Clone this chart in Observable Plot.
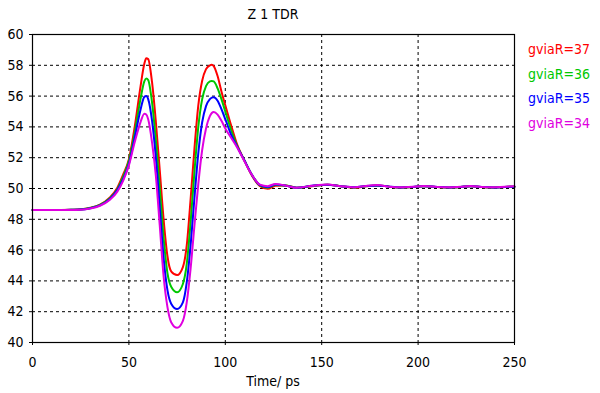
<!DOCTYPE html>
<html>
<head>
<meta charset="utf-8">
<script src="https://cdn.jsdelivr.net/npm/d3@7"></script>
<script src="https://cdn.jsdelivr.net/npm/@observablehq/plot@0.6"></script>
<style>
  html, body { margin: 0; padding: 0; background: #fff; }
  #wrap { position: relative; width: 600px; height: 393px; font-family: "DejaVu Sans Condensed", "Liberation Sans", sans-serif; color: #000; }
  #title { position: absolute; left: 0; width: 546px; top: 6px; text-align: center; font-size: 14px; }
  #xlabel { position: absolute; left: 0; width: 546px; top: 373px; text-align: center; font-size: 14px; }
  #legend { position: absolute; left: 528px; top: 37px; font-size: 14px; line-height: 24.6px; }
</style>
</head>
<body>
<div id="wrap">
  <div id="chart"></div>
  <div id="title"></div>
  <div id="xlabel"></div>
  <div id="legend"></div>
</div>
<script>
const titleText = "Z 1 TDR";
const xLabelText = "Time/ ps";
const seriesNames = ["gviaR=37", "gviaR=36", "gviaR=35", "gviaR=34"];
const seriesColors = ["#ff0000", "#00c800", "#0000ff", "#e000e0"];
const xTicks = [0, 50, 100, 150, 200, 250];
const yTicks = [40, 42, 44, 46, 48, 50, 52, 54, 56, 58, 60];

const time = [0, 10, 20, 25, 30, 35, 40, 44, 47, 50, 53, 56, 58, 59, 60, 62, 64, 66, 68, 70, 72, 75, 78, 80, 82, 84, 86, 88, 90, 92, 93, 94, 96, 98, 100, 103, 106, 110, 114, 118, 122, 126, 131, 137, 145, 153, 160, 167, 173, 179, 185, 191, 197, 203, 210, 216, 222, 227, 233, 239, 245, 250];

const r37 = [48.6, 48.6, 48.62, 48.65, 48.75, 48.95, 49.4, 50.05, 50.9, 51.9, 54.0, 56.6, 58.1, 58.45, 58.4, 56.9, 54.3, 51.2, 48.0, 45.6, 44.6, 44.38, 44.9, 46.3, 49.3, 52.6, 55.4, 57.0, 57.75, 58.0, 58.03, 57.95, 57.3, 56.3, 55.4, 54.1, 52.9, 51.8, 50.8, 50.15, 49.98, 50.18, 50.2, 50.05, 50.15, 50.25, 50.15, 50.05, 50.15, 50.2, 50.12, 50.05, 50.1, 50.15, 50.1, 50.05, 50.1, 50.15, 50.1, 50.05, 50.1, 50.12];

const r36 = [48.6, 48.6, 48.62, 48.64, 48.73, 48.93, 49.35, 49.95, 50.75, 51.8, 53.6, 55.8, 56.95, 57.15, 57.05, 55.6, 53.1, 50.0, 46.8, 44.5, 43.6, 43.26, 43.8, 45.1, 47.8, 51.1, 54.0, 55.8, 56.65, 56.95, 56.98, 56.95, 56.5, 55.8, 55.0, 53.8, 52.8, 51.8, 50.85, 50.2, 50.05, 50.22, 50.2, 50.05, 50.17, 50.25, 50.15, 50.07, 50.15, 50.2, 50.12, 50.06, 50.1, 50.15, 50.1, 50.06, 50.1, 50.15, 50.1, 50.06, 50.1, 50.12];

const r35 = [48.6, 48.6, 48.62, 48.63, 48.72, 48.9, 49.3, 49.9, 50.6, 51.6, 53.3, 55.1, 55.95, 56.0, 55.8, 54.4, 52.0, 48.8, 45.5, 43.4, 42.5, 42.17, 42.6, 43.9, 46.3, 49.4, 52.3, 54.3, 55.35, 55.8, 55.9, 55.92, 55.7, 55.15, 54.5, 53.5, 52.75, 51.8, 50.85, 50.22, 50.1, 50.26, 50.2, 50.05, 50.18, 50.25, 50.15, 50.08, 50.16, 50.2, 50.12, 50.07, 50.1, 50.15, 50.1, 50.07, 50.1, 50.15, 50.1, 50.07, 50.1, 50.12];

const r34 = [48.6, 48.6, 48.6, 48.62, 48.7, 48.88, 49.25, 49.8, 50.5, 51.5, 53.0, 54.3, 54.85, 54.8, 54.5, 53.0, 50.8, 47.6, 44.3, 42.3, 41.3, 40.95, 41.4, 42.6, 44.8, 47.6, 50.3, 52.5, 53.9, 54.7, 54.9, 54.97, 54.8, 54.4, 53.9, 53.3, 52.7, 51.75, 50.85, 50.25, 50.15, 50.3, 50.2, 50.05, 50.18, 50.26, 50.15, 50.08, 50.17, 50.22, 50.12, 50.08, 50.12, 50.16, 50.1, 50.08, 50.12, 50.16, 50.1, 50.08, 50.12, 50.14];

const seriesValues = [r37, r36, r35, r34];
const data = seriesValues.flatMap((vals, i) => time.map((t, j) => ({t, v: vals[j], s: seriesNames[i]})));

const font = '"DejaVu Sans Condensed", "Liberation Sans", sans-serif';

const chart = Plot.plot({
  width: 600,
  height: 393,
  marginLeft: 32,
  marginRight: 86,
  marginTop: 34,
  marginBottom: 51,
  style: {fontFamily: font, fontSize: "14px", color: "#000", background: "#fff"},
  x: {domain: [0, 250]},
  y: {domain: [40, 60]},
  color: {domain: seriesNames, range: seriesColors},
  marks: [
    Plot.ruleX(xTicks.slice(1, -1), {stroke: "#000", strokeDasharray: "3,3", strokeWidth: 1}),
    Plot.ruleY(yTicks.slice(1, -1), {stroke: "#000", strokeDasharray: "3,3", strokeWidth: 1}),
    Plot.line(data, {x: "t", y: "v", z: "s", stroke: "s", strokeWidth: 2, curve: "monotone-x"}),
    Plot.frame({stroke: "#000", strokeWidth: 1.2}),
    Plot.axisX({ticks: xTicks, tickSize: 3, tickPadding: 12, label: null, tickFormat: d => String(d), stroke: "#000"}),
    Plot.axisY({ticks: yTicks, tickSize: 3, tickPadding: 6, label: null, tickFormat: d => String(d), stroke: "#000"})
  ]
});
document.getElementById("chart").appendChild(chart);
document.getElementById("title").textContent = titleText;
document.getElementById("xlabel").textContent = xLabelText;
const legend = document.getElementById("legend");
seriesNames.forEach((n, i) => {
  const d = document.createElement("div");
  d.textContent = n;
  d.style.color = seriesColors[i];
  legend.appendChild(d);
});
</script>
</body>
</html>
